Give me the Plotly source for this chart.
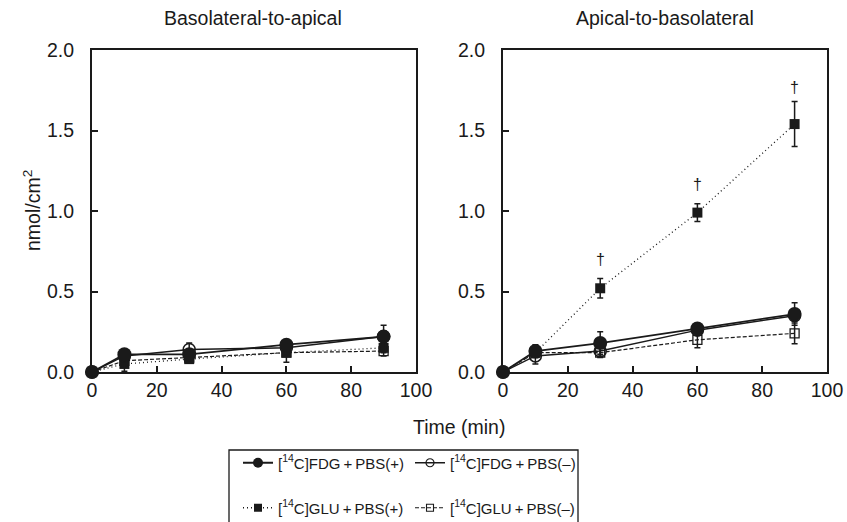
import plotly.graph_objects as go

time = [0, 10, 30, 60, 90]

# Basolateral-to-apical
fdg_pos_ba = [0, 0.11, 0.11, 0.17, 0.22]
fdg_pos_ba_err = [0, 0.02, 0.03, 0.03, 0.07]
fdg_neg_ba = [0, 0.10, 0.14, 0.15, 0.22]
fdg_neg_ba_err = [0, 0.02, 0.04, 0.02, 0.03]
glu_pos_ba = [0, 0.05, 0.08, 0.12, 0.15]
glu_pos_ba_err = [0, 0.045, 0.02, 0.06, 0.03]
glu_neg_ba = [0, 0.07, 0.09, 0.12, 0.13]
glu_neg_ba_err = [0, 0.02, 0.02, 0.02, 0.03]

# Apical-to-basolateral
fdg_pos_ab = [0, 0.13, 0.18, 0.27, 0.36]
fdg_pos_ab_err = [0, 0.04, 0.07, 0.02, 0.07]
fdg_neg_ab = [0, 0.10, 0.13, 0.26, 0.35]
fdg_neg_ab_err = [0, 0.05, 0.03, 0.02, 0.03]
glu_pos_ab = [0, 0.12, 0.52, 0.99, 1.54]
glu_pos_ab_err = [0, 0.03, 0.06, 0.055, 0.14]
glu_neg_ab = [0, 0.12, 0.12, 0.20, 0.24]
glu_neg_ab_err = [0, 0.03, 0.03, 0.05, 0.065]

dagger_x = [30, 60, 90]
dagger_y = [0.70, 1.165, 1.77]

x_ticks = [0, 20, 40, 60, 80, 100]
y_ticks = [0, 0.5, 1.0, 1.5, 2.0]

names = ["[<sup>14</sup>C]FDG\u2009+\u2009PBS(+)", "[<sup>14</sup>C]FDG\u2009+\u2009PBS(\u2013)",
         "[<sup>14</sup>C]GLU\u2009+\u2009PBS(+)", "[<sup>14</sup>C]GLU\u2009+\u2009PBS(\u2013)"]
legend_of = ["legend", "legend", "legend2", "legend2"]

FONT = "Liberation Sans, Arial, sans-serif"
INK = "#1a1a1a"
FS = 19.5

line_styles = [
    dict(color=INK, width=1.8),
    dict(color=INK, width=1.5),
    dict(color=INK, width=1.3, dash="1px,3px"),
    dict(color=INK, width=1.2, dash="4px,2px"),
]
plot_markers = [
    dict(symbol="circle", size=14, color=INK),
    dict(symbol="circle-open", size=12, color=INK, line=dict(width=1.5)),
    dict(symbol="square", size=10, color=INK),
    dict(symbol="square-open", size=9, color=INK, line=dict(width=1.3)),
]
legend_markers = [
    dict(symbol="circle", size=10, color=INK),
    dict(symbol="circle-open", size=8, color=INK, line=dict(width=1.2)),
    dict(symbol="square", size=8, color=INK),
    dict(symbol="square-open", size=7, color=INK, line=dict(width=1.1)),
]

fig = go.Figure()

panels = [
    ("x", "y", [(fdg_pos_ba, fdg_pos_ba_err), (fdg_neg_ba, fdg_neg_ba_err),
                (glu_pos_ba, glu_pos_ba_err), (glu_neg_ba, glu_neg_ba_err)]),
    ("x2", "y2", [(fdg_pos_ab, fdg_pos_ab_err), (fdg_neg_ab, fdg_neg_ab_err),
                  (glu_pos_ab, glu_pos_ab_err), (glu_neg_ab, glu_neg_ab_err)]),
]

draw_order = [3, 2, 1, 0]
for pi, (xa, ya, series) in enumerate(panels):
    for i in draw_order:
        vals, errs = series[i]
        fig.add_trace(go.Scatter(
            x=time, y=vals, xaxis=xa, yaxis=ya, mode="lines+markers",
            name=names[i], showlegend=False, legendgroup=f"s{i}",
            line=line_styles[i], marker=plot_markers[i],
            error_y=dict(type="data", array=errs, visible=True, color=INK, thickness=1.5, width=3),
            cliponaxis=False))

# legend entries (smaller symbols, as in the reference key)
for i in range(4):
    fig.add_trace(go.Scatter(
        x=[None], y=[None], xaxis="x", yaxis="y", mode="lines+markers",
        name=names[i], showlegend=True, legend=legend_of[i], legendrank=i + 1,
        legendgroup=f"s{i}", line=line_styles[i], marker=legend_markers[i]))

for dx, dy in zip(dagger_x, dagger_y):
    fig.add_annotation(x=dx, y=dy, xref="x2", yref="y2", text="\u2020", showarrow=False,
                       xanchor="center", yanchor="middle",
                       font=dict(family=FONT, size=16, color=INK))

axis_common = dict(range=[0, 100], tickvals=x_ticks, ticks="inside", ticklen=6,
                   tickwidth=1.5, tickcolor=INK, showline=True, linecolor=INK, linewidth=2,
                   mirror=True, showgrid=False, zeroline=False,
                   tickfont=dict(family=FONT, size=FS, color=INK))
yaxis_common = dict(range=[0, 2], tickvals=y_ticks, tickformat=".1f", ticks="inside",
                    ticklen=6, tickwidth=1.5, tickcolor=INK, showline=True, linecolor=INK, linewidth=2,
                    mirror=True, showgrid=False, zeroline=False, ticklabelstandoff=12,
                    tickfont=dict(family=FONT, size=FS, color=INK))

W, H = 847, 522
leg_common = dict(orientation="h", xanchor="left", yanchor="middle", borderwidth=0,
                  bgcolor="rgba(0,0,0,0)", font=dict(family=FONT, size=15, color=INK),
                  entrywidth=127, itemwidth=30, traceorder="normal")
fig.update_layout(
    width=W, height=H, margin=dict(l=0, r=0, t=0, b=0, autoexpand=False),
    paper_bgcolor="white", plot_bgcolor="white",
    font=dict(family=FONT, color=INK),
    xaxis=dict(domain=[92 / W, 416 / W], anchor="y", **axis_common),
    yaxis=dict(domain=[1 - 372 / H, 1 - 50 / H], anchor="x", **yaxis_common),
    xaxis2=dict(domain=[503 / W, 827 / W], anchor="y2", **axis_common),
    yaxis2=dict(domain=[1 - 372 / H, 1 - 50 / H], anchor="x2", **yaxis_common),
    legend=dict(x=238 / W, y=1 - 463 / H, **leg_common),
    legend2=dict(x=238 / W, y=1 - 508 / H, **leg_common),
    showlegend=True,
)

fig.add_shape(type="rect", xref="paper", yref="paper", x0=229 / W, x1=578 / W,
              y0=-0.05, y1=1 - 450 / H, line=dict(color=INK, width=1.3), fillcolor="rgba(0,0,0,0)")

fig.add_annotation(x=253 / W, y=1 - 18 / H, xref="paper", yref="paper", text="Basolateral-to-apical",
                   xanchor="center", yanchor="middle", showarrow=False,
                   font=dict(family=FONT, size=FS, color=INK))
fig.add_annotation(x=665 / W, y=1 - 18 / H, xref="paper", yref="paper", text="Apical-to-basolateral",
                   xanchor="center", yanchor="middle", showarrow=False,
                   font=dict(family=FONT, size=FS, color=INK))
fig.add_annotation(x=459 / W, y=1 - 427 / H, xref="paper", yref="paper", text="Time (min)",
                   xanchor="center", yanchor="middle", showarrow=False,
                   font=dict(family=FONT, size=FS, color=INK))
fig.add_annotation(x=32 / W, y=1 - 211 / H, xref="paper", yref="paper", text="nmol/cm<sup>2</sup>",
                   xanchor="center", yanchor="middle", textangle=-90, showarrow=False,
                   font=dict(family=FONT, size=FS, color=INK))

fig.write_html("out.html", config={"displayModeBar": False},
               post_script="document.body.style.margin='0';document.body.style.overflow='hidden';")
